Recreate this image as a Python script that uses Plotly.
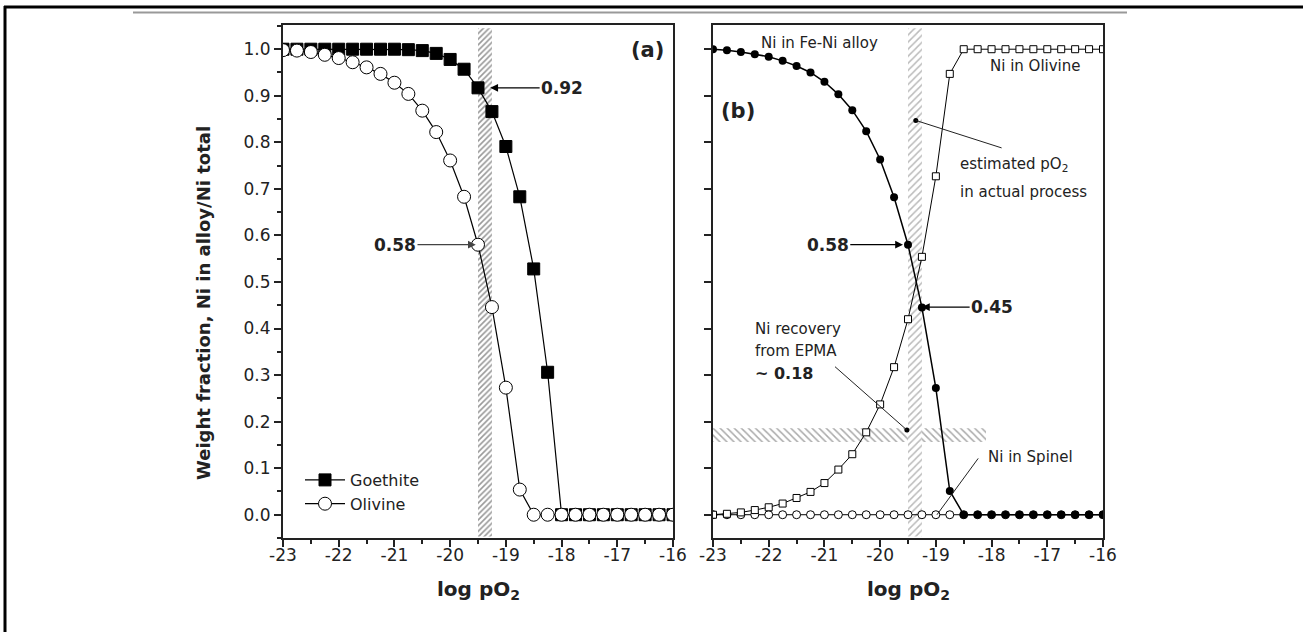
import plotly.graph_objects as go

# ---------------- data ----------------
log_pO2 = [-23.0, -22.75, -22.5, -22.25, -22.0, -21.75, -21.5, -21.25, -21.0, -20.75,
           -20.5, -20.25, -20.0, -19.75, -19.5, -19.25, -19.0, -18.75, -18.5, -18.25,
           -18.0, -17.75, -17.5, -17.25, -17.0, -16.75, -16.5, -16.25, -16.0]

# panel (a)
goethite = [1.0, 1.0, 1.0, 1.0, 1.0, 1.0, 1.0, 1.0, 1.0, 0.999,
            0.997, 0.991, 0.978, 0.957, 0.917, 0.866, 0.791, 0.683, 0.528, 0.306,
            0.0, 0.0, 0.0, 0.0, 0.0, 0.0, 0.0, 0.0, 0.0]
olivine_a = [0.998, 0.997, 0.994, 0.988, 0.981, 0.972, 0.961, 0.947, 0.928, 0.904,
             0.868, 0.822, 0.761, 0.683, 0.58, 0.446, 0.273, 0.054, 0.0, 0.0,
             0.0, 0.0, 0.0, 0.0, 0.0, 0.0, 0.0, 0.0, 0.0]

# panel (b)
ni_alloy = [1.0, 0.998, 0.994, 0.989, 0.984, 0.975, 0.964, 0.95, 0.93, 0.903,
            0.869, 0.824, 0.763, 0.682, 0.58, 0.445, 0.272, 0.051, 0.0, 0.0,
            0.0, 0.0, 0.0, 0.0, 0.0, 0.0, 0.0, 0.0, 0.0]
ni_olivine = [0.0, 0.002, 0.005, 0.01, 0.016, 0.024, 0.036, 0.049, 0.068, 0.097,
              0.13, 0.177, 0.237, 0.317, 0.42, 0.554, 0.727, 0.947, 1.0, 1.0,
              1.0, 1.0, 1.0, 1.0, 1.0, 1.0, 1.0, 1.0, 1.0]
ni_spinel = [0.0, 0.0, 0.0, 0.0, 0.0, 0.0, 0.0, 0.0, 0.0, 0.0,
             0.0, 0.0, 0.0, 0.0, 0.0, 0.0, 0.0, 0.0, 0.0, 0.0,
             0.0, 0.0, 0.0, 0.0, 0.0, 0.0, 0.0, 0.0, 0.0]

x_ticks = [-23, -22, -21, -20, -19, -18, -17, -16]
x_ticktext = ["-23", "-22", "-21", "-20", "-19", "-18", "-17", "-16"]
y_ticks = [0.0, 0.1, 0.2, 0.3, 0.4, 0.5, 0.6, 0.7, 0.8, 0.9, 1.0]
y_ticktext = ["0.0", "0.1", "0.2", "0.3", "0.4", "0.5", "0.6", "0.7", "0.8", "0.9", "1.0"]

# hatched regions (estimated pO2 band, recovery band)
band_x = [-19.5, -19.25]
band_y = [-0.047, 1.045]
rec_x = [-23.0, -18.1]
rec_y = [0.156, 0.186]

W, H = 1303, 632
FONT = "DejaVu Sans"

def px_x(p):
    return p / W

def px_y(p):
    return 1 - p / H

fig = go.Figure()

# ---------- panel (a) ----------
fig.add_trace(go.Scatter(
    x=[band_x[0], band_x[1], band_x[1], band_x[0], band_x[0]],
    y=[band_y[0], band_y[0], band_y[1], band_y[1], band_y[0]],
    mode="none", fill="toself", fillcolor="rgba(0,0,0,0)",
    fillpattern=dict(shape="/", fgcolor="#333333", bgcolor="white", size=4, solidity=0.4),
    showlegend=False, hoverinfo="skip", xaxis="x", yaxis="y"))
fig.add_trace(go.Scatter(
    x=log_pO2, y=goethite, name="Goethite", mode="lines+markers",
    line=dict(color="black", width=1.2),
    marker=dict(symbol="square", size=12, color="black", line=dict(color="black", width=1)),
    xaxis="x", yaxis="y"))
fig.add_trace(go.Scatter(
    x=log_pO2, y=olivine_a, name="Olivine", mode="lines+markers",
    line=dict(color="black", width=1.2),
    marker=dict(symbol="circle", size=13, color="white", line=dict(color="black", width=1)),
    xaxis="x", yaxis="y"))

# ---------- panel (b) ----------
fig.add_trace(go.Scatter(
    x=[rec_x[0], rec_x[1], rec_x[1], rec_x[0], rec_x[0]],
    y=[rec_y[0], rec_y[0], rec_y[1], rec_y[1], rec_y[0]],
    mode="none", fill="toself", fillcolor="rgba(0,0,0,0)",
    fillpattern=dict(shape="\\", fgcolor="#555555", bgcolor="white", size=5, solidity=0.3),
    showlegend=False, hoverinfo="skip", xaxis="x2", yaxis="y2"))
fig.add_trace(go.Scatter(
    x=[band_x[0], band_x[1], band_x[1], band_x[0], band_x[0]],
    y=[band_y[0], band_y[0], band_y[1], band_y[1], band_y[0]],
    mode="none", fill="toself", fillcolor="rgba(0,0,0,0)",
    fillpattern=dict(shape="/", fgcolor="#777777", bgcolor="white", size=5, solidity=0.3),
    showlegend=False, hoverinfo="skip", xaxis="x2", yaxis="y2"))
fig.add_trace(go.Scatter(
    x=log_pO2, y=ni_spinel, name="Ni in Spinel", mode="lines+markers",
    line=dict(color="black", width=1),
    marker=dict(symbol="circle", size=8, color="white", line=dict(color="black", width=1)),
    showlegend=False, xaxis="x2", yaxis="y2"))
fig.add_trace(go.Scatter(
    x=log_pO2, y=ni_olivine, name="Ni in Olivine", mode="lines+markers",
    line=dict(color="black", width=1),
    marker=dict(symbol="square", size=7, color="white", line=dict(color="black", width=1)),
    showlegend=False, xaxis="x2", yaxis="y2"))
fig.add_trace(go.Scatter(
    x=log_pO2, y=ni_alloy, name="Ni in Fe-Ni alloy", mode="lines+markers",
    line=dict(color="black", width=1.5),
    marker=dict(symbol="circle", size=8, color="black"),
    showlegend=False, xaxis="x2", yaxis="y2"))

# callout lines in (b): [x0, y0, x1, y1]
callouts = [
    [-19.36, 0.847, -17.82, 0.788],   # estimated pO2
    [-20.81, 0.318, -19.52, 0.182],   # Ni recovery
    [-18.24, 0.121, -18.98, 0.0],     # Ni in Spinel
]
callout_dots_x = [-19.36, -19.52]
callout_dots_y = [0.847, 0.182]
for c in callouts:
    fig.add_shape(type="line", xref="x2", yref="y2", x0=c[0], y0=c[1], x1=c[2], y1=c[3],
                  line=dict(color="#222", width=1))
fig.add_trace(go.Scatter(x=callout_dots_x, y=callout_dots_y, mode="markers",
                         marker=dict(size=5, color="black"), showlegend=False,
                         hoverinfo="skip", xaxis="x2", yaxis="y2"))

# ---------- axes ----------
dom_a = [px_x(283), px_x(673)]
dom_b = [px_x(713), px_x(1103)]
dom_y = [px_y(538), px_y(25)]
yr = [-0.05, 1.052]

axis_common = dict(showline=True, linecolor="#222", linewidth=2, mirror=True,
                   ticks="outside", tickcolor="#222", tickwidth=1.5, ticklen=7,
                   showgrid=False, zeroline=False,
                   tickfont=dict(family=FONT, size=17, color="#222"))
x_minor = dict(dtick=0.5, ticklen=4, ticks="outside", tickcolor="#222")

fig.update_layout(
    width=W, height=H, margin=dict(l=0, r=0, t=0, b=0, autoexpand=False),
    plot_bgcolor="white", paper_bgcolor="white",
    xaxis=dict(domain=dom_a, range=[-23, -16], tickvals=x_ticks, ticktext=x_ticktext,
               anchor="y", minor=x_minor, ticklabelstandoff=-6, **axis_common),
    yaxis=dict(domain=dom_y, range=yr, tickvals=y_ticks, ticktext=y_ticktext, anchor="x",
               minor=dict(dtick=0.05, ticklen=4, ticks="outside", tickcolor="#222"),
               **axis_common),
    xaxis2=dict(domain=dom_b, range=[-23, -16], tickvals=x_ticks, ticktext=x_ticktext,
                anchor="y2", minor=x_minor, ticklabelstandoff=-6, **axis_common),
    yaxis2=dict(domain=dom_y, range=yr, tickvals=y_ticks, anchor="x2",
                showticklabels=False, **axis_common),
    legend=dict(x=px_x(300), y=px_y(463), xanchor="left", yanchor="top",
                bgcolor="rgba(0,0,0,0)", font=dict(family=FONT, size=16, color="#222"),
                tracegroupgap=0, itemwidth=40),
    font=dict(family=FONT, color="#222"),
)

ann = []
def txt(text, x, y, xref, yref, size=15, bold=False, xanchor="center", **kw):
    t = f"<b>{text}</b>" if bold else text
    ann.append(dict(text=t, x=x, y=y, xref=xref, yref=yref, showarrow=False,
                    xanchor=xanchor, yanchor="middle",
                    font=dict(family=FONT, size=size, color="#222"), **kw))

def arrow(text, head_x, head_y, text_x, xref, yref, color="black"):
    ann.append(dict(text=f"<b>{text}</b>", x=head_x, y=head_y, ax=text_x, ay=head_y,
                    xref=xref, yref=yref, axref=xref, ayref=yref, showarrow=True,
                    arrowhead=2, arrowsize=1.2, arrowwidth=1.3, arrowcolor=color,
                    font=dict(family=FONT, size=17, color="#222")))

# axis titles
txt("Weight fraction, Ni in alloy/Ni total", px_x(203), px_y(303), "paper", "paper",
    size=18, bold=True, textangle=-90)
txt("log pO<sub>2</sub>", px_x(478), px_y(590), "paper", "paper", size=20, bold=True)
txt("log pO<sub>2</sub>", px_x(908), px_y(590), "paper", "paper", size=20, bold=True)

# panel (a)
txt("(a)", -16.46, 0.998, "x", "y", size=21, bold=True)
arrow("0.92", -19.28, 0.917, -17.99, "x", "y")
arrow("0.58", -19.54, 0.58, -20.99, "x", "y", color="#444")

# panel (b)
txt("Ni in Fe-Ni alloy", -21.08, 1.013, "x2", "y2", size=15)
txt("(b)", -22.55, 0.867, "x2", "y2", size=21, bold=True)
txt("Ni in Olivine", -17.22, 0.964, "x2", "y2", size=15)
txt("estimated pO<sub>2</sub>", -18.6, 0.753, "x2", "y2", size=15, xanchor="left")
txt("in actual process", -18.6, 0.693, "x2", "y2", size=15, xanchor="left")
txt("Ni recovery", -22.28, 0.398, "x2", "y2", size=15, xanchor="left")
txt("from EPMA", -22.28, 0.351, "x2", "y2", size=15, xanchor="left")
txt("~ 0.18", -22.28, 0.303, "x2", "y2", size=16, bold=True, xanchor="left")
txt("Ni in Spinel", -17.31, 0.125, "x2", "y2", size=15)
arrow("0.58", -19.59, 0.58, -20.94, "x2", "y2")
arrow("0.45", -19.25, 0.446, -17.99, "x2", "y2")

fig.update_layout(annotations=ann)

# page frame and top rule
fig.add_shape(type="line", xref="paper", yref="paper", x0=px_x(4), x1=1, y0=px_y(7), y1=px_y(7),
              line=dict(color="black", width=3), layer="above")
fig.add_shape(type="line", xref="paper", yref="paper", x0=px_x(5), x1=px_x(5), y0=0, y1=px_y(6),
              line=dict(color="black", width=3), layer="above")
fig.add_shape(type="line", xref="paper", yref="paper", x0=px_x(133), x1=px_x(1127),
              y0=px_y(12.5), y1=px_y(12.5), line=dict(color="#999", width=2))

fig.write_html("out.html", config={"displayModeBar": False},
               post_script="document.body.style.margin='0';document.body.style.overflow='hidden';")
